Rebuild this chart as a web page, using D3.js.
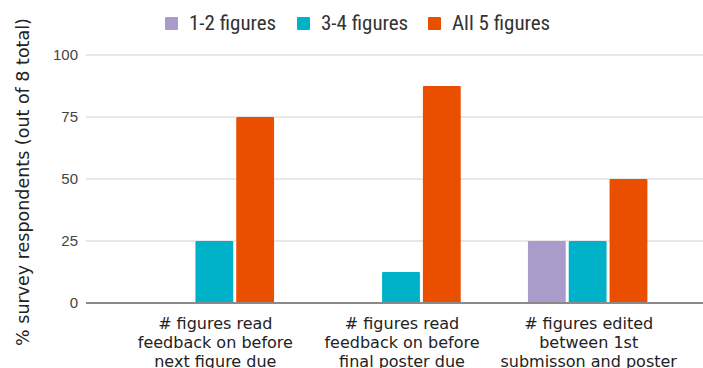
<!DOCTYPE html>
<html>
<head>
<meta charset="utf-8">
<script src="https://d3js.org/d3.v7.min.js"></script>
<style>
  body { margin: 0; background: #fff; }
</style>
</head>
<body>
<svg width="703" height="368"></svg>
<script>
// data
var categories = [
  ["# figures read", "feedback on before", "next figure due"],
  ["# figures read", "feedback on before", "final poster due"],
  ["# figures edited", "between 1st", "submisson and poster"]
];
var seriesNames = ["1-2 figures", "3-4 figures", "All 5 figures"];
var seriesColors = ["#a99cca", "#00b1ca", "#ea4f00"];
var values12 = [0, 0, 25];
var values34 = [25, 12.5, 25];
var valuesAll5 = [75, 87.5, 50];
var yTicks = [0, 25, 50, 75, 100];

var svg = d3.select("svg");

var seriesValues = [values12, values34, valuesAll5];
var groups = categories.map(function(c, i) { return i; });

var x0 = d3.scaleBand().domain(groups).range([121, 681]).paddingInner(0.36).paddingOuter(0.18);
var x1 = d3.scaleBand().domain([0, 1, 2]).range([0, x0.bandwidth()]).paddingInner(0.073);
var y = d3.scaleLinear().domain([0, 100]).range([303, 55]);

// gridlines + tick labels
var grid = svg.append("g");
grid.selectAll("line").data(yTicks).enter().append("line")
  .attr("x1", 86).attr("x2", 703)
  .attr("y1", function(d) { return y(d); })
  .attr("y2", function(d) { return y(d); })
  .attr("stroke", function(d) { return d === 0 ? "#8a8a8a" : "#e0e0e0"; })
  .attr("stroke-width", function(d) { return d === 0 ? 2 : 1.5; });

grid.selectAll("text").data(yTicks).enter().append("text")
  .attr("x", 78)
  .attr("y", function(d) { return y(d); })
  .attr("dy", "0.35em")
  .attr("text-anchor", "end")
  .attr("font-family", "Liberation Sans, Arial, sans-serif")
  .attr("font-size", "15px")
  .attr("fill", "#444")
  .text(function(d) { return d; });

// y axis title
svg.append("text")
  .attr("transform", "translate(29,182) rotate(-90)")
  .attr("text-anchor", "middle")
  .attr("font-family", "DejaVu Sans, Verdana, sans-serif")
  .attr("font-size", "17.5px")
  .attr("fill", "#222")
  .text("% survey respondents (out of 8 total)");

// bars
var g = svg.append("g");
groups.forEach(function(gi) {
  seriesValues.forEach(function(vals, si) {
    if (vals[gi] <= 0) return;
    g.append("rect")
      .attr("x", x0(gi) + x1(si))
      .attr("y", y(vals[gi]))
      .attr("width", x1.bandwidth())
      .attr("height", y(0) - y(vals[gi]))
      .attr("rx", 1)
      .attr("fill", seriesColors[si]);
  });
});

// redraw baseline over bars
svg.append("line")
  .attr("x1", 86).attr("x2", 703)
  .attr("y1", y(0)).attr("y2", y(0))
  .attr("stroke", "#8a8a8a").attr("stroke-width", 2);

// category labels
groups.forEach(function(gi) {
  var t = svg.append("text")
    .attr("text-anchor", "middle")
    .attr("font-family", "DejaVu Sans, Verdana, sans-serif")
    .attr("font-size", "16px")
    .attr("fill", "#222");
  categories[gi].forEach(function(line, li) {
    t.append("tspan")
      .attr("x", x0(gi) + x0.bandwidth() / 2 + 1)
      .attr("y", 329 + li * 19)
      .text(line);
  });
});

// legend
var legendX = [165, 297, 428];
var legend = svg.append("g");
seriesNames.forEach(function(name, i) {
  legend.append("rect")
    .attr("x", legendX[i]).attr("y", 17)
    .attr("width", 13).attr("height", 13)
    .attr("rx", 1)
    .attr("fill", seriesColors[i]);
  legend.append("text")
    .attr("x", legendX[i] + 24).attr("y", 30)
    .attr("font-family", "Liberation Sans Narrow, Roboto Condensed, Arial Narrow, sans-serif")
    .attr("font-size", "21px")
    .attr("fill", "#333")
    .text(name);
});
</script>
</body>
</html>
